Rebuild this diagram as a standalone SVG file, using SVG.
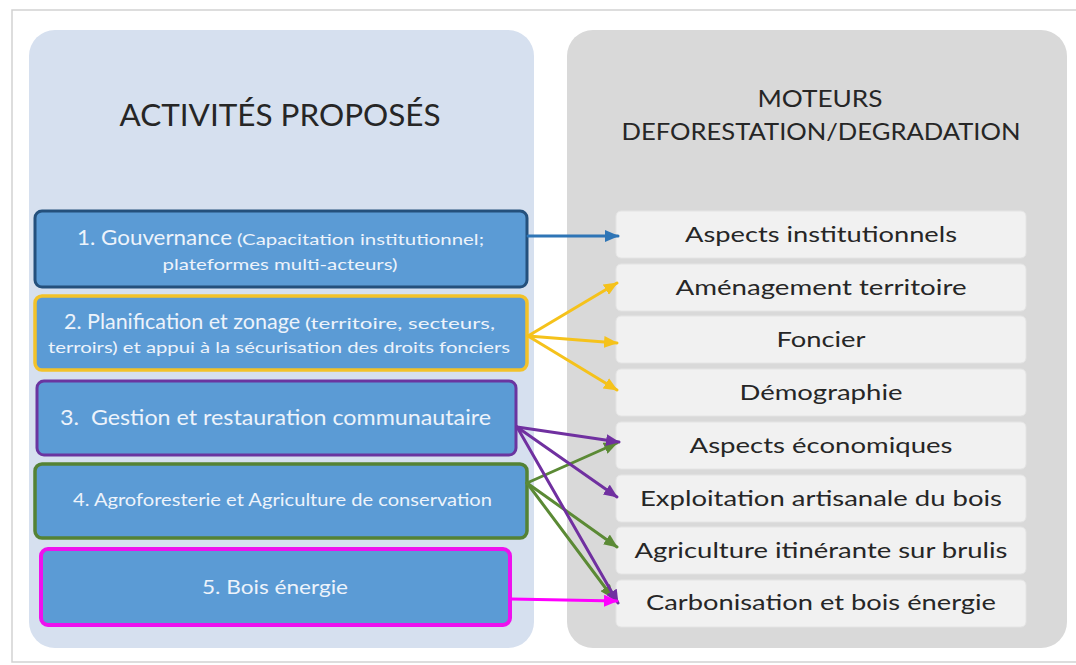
<svg xmlns="http://www.w3.org/2000/svg" width="1076" height="665" viewBox="0 0 1076 665">
<style>
.title{font-family:Lato,"Liberation Sans",sans-serif;fill:#262626;text-anchor:middle}
.act{fill:#5b9bd5;rx:7px}
.actt{font-family:Lato,"Liberation Sans",sans-serif;fill:#edf3fb}
.item{fill:#f1f1f1;stroke:#e4e4e4;stroke-width:1}
.itemt{font-family:Lato,"Liberation Sans",sans-serif;font-size:22px;fill:#262626;text-anchor:middle}
.c{fill:none;stroke-width:3;stroke-linecap:round}
</style>
<defs>
<marker id="mB" markerUnits="userSpaceOnUse" markerWidth="14" markerHeight="12" refX="13" refY="6" orient="auto"><path d="M0,0 L14,6 L0,12 z" fill="#2e75b6"/></marker>
<marker id="mY" markerUnits="userSpaceOnUse" markerWidth="14" markerHeight="12" refX="13" refY="6" orient="auto"><path d="M0,0 L14,6 L0,12 z" fill="#f5c21b"/></marker>
<marker id="mP" markerUnits="userSpaceOnUse" markerWidth="14" markerHeight="12" refX="13" refY="6" orient="auto"><path d="M0,0 L14,6 L0,12 z" fill="#7030a0"/></marker>
<marker id="mG" markerUnits="userSpaceOnUse" markerWidth="14" markerHeight="12" refX="13" refY="6" orient="auto"><path d="M0,0 L14,6 L0,12 z" fill="#5b8a35"/></marker>
<marker id="mM" markerUnits="userSpaceOnUse" markerWidth="14" markerHeight="12" refX="13" refY="6" orient="auto"><path d="M0,0 L14,6 L0,12 z" fill="#ff00ff"/></marker>
</defs>
<rect x="0" y="0" width="1076" height="665" fill="#ffffff"/>
<rect x="12" y="10" width="1072" height="652" fill="#ffffff" stroke="#d2d2d2" stroke-width="1.5"/>

<g id="panel-left">
<rect x="29" y="30" width="505" height="618" rx="26" fill="#d6e0ef"/>
<text class="title" x="280" y="126" font-size="31" textLength="321" lengthAdjust="spacingAndGlyphs">ACTIVITÉS PROPOSÉS</text>
</g>
<g id="panel-right">
<rect x="567" y="30" width="500" height="618" rx="26" fill="#d9d9d9"/>
<text class="title" x="820" y="107" font-size="23" textLength="125" lengthAdjust="spacingAndGlyphs">MOTEURS</text>
<text class="title" x="821" y="140" font-size="23" textLength="399" lengthAdjust="spacingAndGlyphs">DEFORESTATION/DEGRADATION</text>
</g>

<g id="act1">
<rect class="act" x="35" y="211" width="492" height="76" rx="7" stroke="#24507c" stroke-width="3"/>
<text class="actt" y="245"><tspan x="77" font-size="21" textLength="155" lengthAdjust="spacingAndGlyphs">1. Gouvernance</tspan><tspan x="237" font-size="16" textLength="247" lengthAdjust="spacingAndGlyphs">(Capacitation institutionnel;</tspan></text>
<text class="actt" x="280" y="270" font-size="16" text-anchor="middle" textLength="235" lengthAdjust="spacingAndGlyphs">plateformes multi-acteurs)</text>
</g>
<g id="act2">
<rect class="act" x="35" y="296" width="492" height="74" rx="7" stroke="#f2c22a" stroke-width="3.5"/>
<text class="actt" y="329"><tspan x="64" font-size="21" textLength="236" lengthAdjust="spacingAndGlyphs">2. Planification et zonage</tspan><tspan x="305" font-size="16" textLength="190" lengthAdjust="spacingAndGlyphs">(territoire, secteurs,</tspan></text>
<text class="actt" x="279" y="353" font-size="16" text-anchor="middle" textLength="462" lengthAdjust="spacingAndGlyphs">terroirs) et appui à la sécurisation des droits fonciers</text>
</g>
<g id="act3">
<rect class="act" x="37" y="381" width="479" height="74" rx="7" stroke="#6a35a0" stroke-width="3"/>
<text class="actt" x="60" y="425" font-size="21" xml:space="preserve" textLength="431" lengthAdjust="spacingAndGlyphs">3.  Gestion et restauration communautaire</text>
</g>
<g id="act4">
<rect class="act" x="35" y="464" width="492" height="74" rx="7" stroke="#548235" stroke-width="3.5"/>
<text class="actt" x="73" y="506" font-size="18" textLength="419" lengthAdjust="spacingAndGlyphs">4. Agroforesterie et Agriculture de conservation</text>
</g>
<g id="act5">
<rect class="act" x="41" y="549" width="469" height="76" rx="7" stroke="#ee11ee" stroke-width="4"/>
<text class="actt" x="202" y="594" font-size="20" textLength="146" lengthAdjust="spacingAndGlyphs">5. Bois énergie</text>
</g>

<g id="drv1"><rect class="item" x="616" y="211" width="410" height="47" rx="5"/><text class="itemt" x="821" y="241.5" textLength="272" lengthAdjust="spacingAndGlyphs">Aspects institutionnels</text></g>
<g id="drv2"><rect class="item" x="616" y="264" width="410" height="47" rx="5"/><text class="itemt" x="821" y="294.5" textLength="291" lengthAdjust="spacingAndGlyphs">Aménagement territoire</text></g>
<g id="drv3"><rect class="item" x="616" y="316" width="410" height="47" rx="5"/><text class="itemt" x="821" y="346.5" textLength="89" lengthAdjust="spacingAndGlyphs">Foncier</text></g>
<g id="drv4"><rect class="item" x="616" y="369" width="410" height="47" rx="5"/><text class="itemt" x="821" y="399.5" textLength="163" lengthAdjust="spacingAndGlyphs">Démographie</text></g>
<g id="drv5"><rect class="item" x="616" y="422" width="410" height="47" rx="5"/><text class="itemt" x="821" y="452.5" textLength="263" lengthAdjust="spacingAndGlyphs">Aspects économiques</text></g>
<g id="drv6"><rect class="item" x="616" y="475" width="410" height="47" rx="5"/><text class="itemt" x="821" y="505.5" textLength="362" lengthAdjust="spacingAndGlyphs">Exploitation artisanale du bois</text></g>
<g id="drv7"><rect class="item" x="616" y="527" width="410" height="47" rx="5"/><text class="itemt" x="821" y="557.5" textLength="373" lengthAdjust="spacingAndGlyphs">Agriculture itinérante sur brulis</text></g>
<g id="drv8"><rect class="item" x="616" y="580" width="410" height="47" rx="5"/><text class="itemt" x="821" y="610" textLength="350" lengthAdjust="spacingAndGlyphs">Carbonisation et bois énergie</text></g>

<g id="connectors">
<path class="c" stroke="#2e75b6" d="M528,236 L618,236" marker-end="url(#mB)"/>
<path class="c" stroke="#f5c21b" d="M528,336 L617,283" marker-end="url(#mY)"/>
<path class="c" stroke="#f5c21b" d="M528,336 L617,343" marker-end="url(#mY)"/>
<path class="c" stroke="#f5c21b" d="M528,336 L617,390" marker-end="url(#mY)"/>
<path class="c" stroke="#5b8a35" d="M527,483 L617,443" marker-end="url(#mG)"/>
<path class="c" stroke="#5b8a35" d="M527,483 L617,547" marker-end="url(#mG)"/>
<path class="c" stroke="#5b8a35" d="M527,483 L613,598" marker-end="url(#mG)"/>
<path class="c" stroke="#7030a0" d="M517,427 L619,442" marker-end="url(#mP)"/>
<path class="c" stroke="#7030a0" d="M517,427 L617,497" marker-end="url(#mP)"/>
<path class="c" stroke="#7030a0" d="M517,427 L618,603" marker-end="url(#mP)"/>
<path class="c" stroke="#ff00ff" d="M511,599 L617,601" marker-end="url(#mM)"/>
</g>
</svg>
